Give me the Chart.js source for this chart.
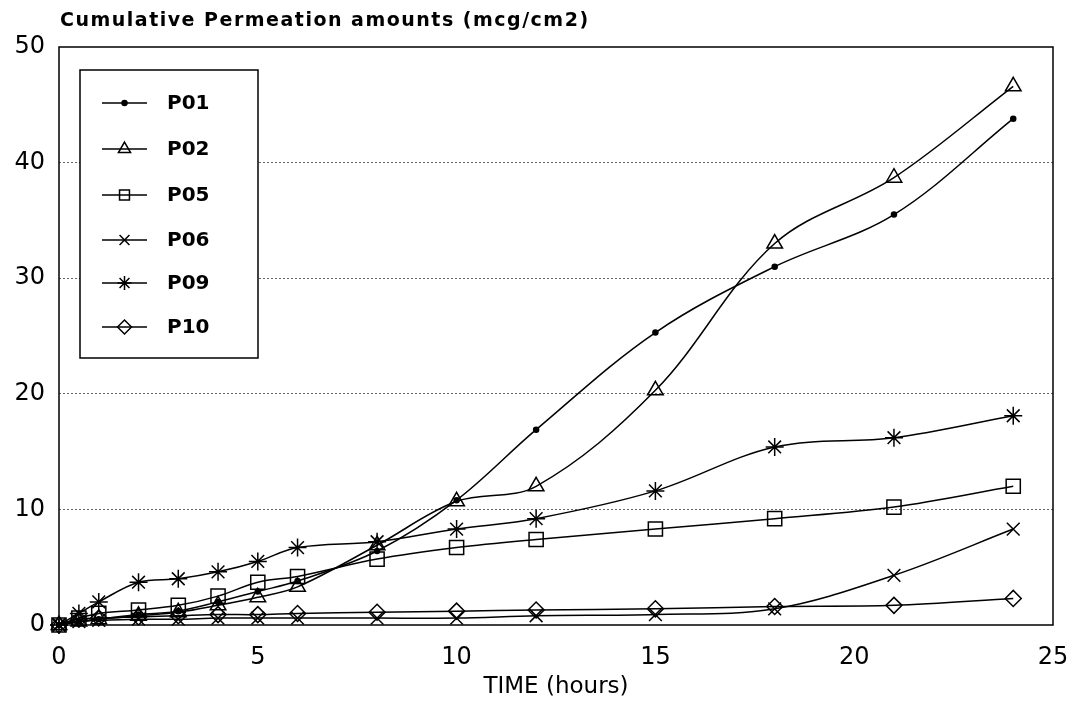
<!DOCTYPE html>
<html>
<head>
<meta charset="utf-8">
<title>Cumulative Permeation amounts</title>
<script src="https://cdn.jsdelivr.net/npm/chart.js@4/dist/chart.umd.min.js"></script>
<style>
    html, body { margin: 0; padding: 0; background: #fff; }
    #wrap { width: 1074px; height: 701px; position: relative; }
</style>
</head>
<body>
<div id="wrap"><canvas id="permChart"></canvas></div>
<script>
// Sampling times (hours)
const hours = [0, 0.5, 1, 2, 3, 4, 5, 6, 8, 10, 12, 15, 18, 21, 24];

// Cumulative permeation amounts (mcg/cm2)
const p01 = [0, 0.3, 0.5, 0.9, 1.2, 2.0, 2.9, 3.8, 6.4, 10.8, 16.9, 25.3, 31.0, 35.5, 43.8];
const p02 = [0, 0.3, 0.5, 0.8, 1.1, 1.7, 2.4, 3.3, 6.9, 10.7, 12.0, 20.3, 33.0, 38.7, 46.6];
const p05 = [0, 0.6, 1.0, 1.3, 1.7, 2.5, 3.7, 4.2, 5.7, 6.7, 7.4, 8.3, 9.2, 10.2, 12.0];
const p06 = [0, 0.3, 0.4, 0.5, 0.5, 0.6, 0.6, 0.6, 0.6, 0.6, 0.8, 0.9, 1.4, 4.3, 8.3];
const p09 = [0, 1.0, 2.0, 3.7, 4.0, 4.6, 5.5, 6.7, 7.2, 8.3, 9.2, 11.6, 15.4, 16.2, 18.1];
const p10 = [0, 0.5, 0.6, 0.7, 0.8, 0.9, 0.9, 1.0, 1.1, 1.2, 1.3, 1.4, 1.6, 1.7, 2.3];

const seriesNames = ['P01', 'P02', 'P05', 'P06', 'P09', 'P10'];
const seriesValues = [p01, p02, p05, p06, p09, p10];
const markerStyles = ['circle', 'triangle', 'rect', 'crossRot', 'star', 'rectRot'];
const markerSizes = [2.5, 9, 10, 9, 9, 8];

const yTicks = [0, 10, 20, 30, 40, 50];
const xTicks = [0, 5, 10, 15, 20, 25];

const chartTitle = 'Cumulative Permeation amounts (mcg/cm2)';
const xTitle = 'TIME (hours)';

document.addEventListener('DOMContentLoaded', function() {
    const canvas = document.getElementById('permChart');

    const datasets = seriesNames.map(function(name, i) {
        const filled = markerStyles[i] === 'circle';
        return {
            label: name,
            data: seriesValues[i].map((v, j) => ({ x: hours[j], y: v })),
            borderColor: '#000',
            borderWidth: 1.5,
            backgroundColor: filled ? '#000' : 'rgba(0,0,0,0)',
            pointStyle: markerStyles[i],
            pointRadius: markerSizes[i],
            pointBorderColor: '#000',
            pointBackgroundColor: filled ? '#000' : 'rgba(0,0,0,0)',
            pointBorderWidth: 1.5,
            tension: 0.35,
            clip: false
        };
    });

    // Frame, title over the y axis, and the boxed legend inside the plot
    const decorations = {
        id: 'decorations',
        afterDraw(chart) {
            const ctx = chart.ctx;
            const area = chart.chartArea;
            ctx.save();
            ctx.strokeStyle = '#000';
            ctx.lineWidth = 1.5;
            ctx.strokeRect(area.left, area.top, area.right - area.left, area.bottom - area.top);

            ctx.fillStyle = '#000';
            ctx.font = 'bold 19px "DejaVu Sans"';
            ctx.textAlign = 'left';
            ctx.textBaseline = 'middle';
            ctx.letterSpacing = '1.5px';
            ctx.fillText(chartTitle, 60, 21);
            ctx.letterSpacing = '0px';

            // legend box
            const box = { x: 80, y: 70, w: 178, h: 288 };
            ctx.fillStyle = '#fff';
            ctx.fillRect(box.x, box.y, box.w, box.h);
            ctx.strokeRect(box.x, box.y, box.w, box.h);

            const rows = [103, 149, 195, 240, 283, 327];
            chart.data.datasets.forEach(function(ds, i) {
                const y = rows[i];
                ctx.strokeStyle = '#000';
                ctx.lineWidth = 1.5;
                ctx.beginPath();
                ctx.moveTo(102, y);
                ctx.lineTo(147, y);
                ctx.stroke();
                ctx.fillStyle = ds.pointBackgroundColor;
                Chart.helpers.drawPoint(ctx, {
                    pointStyle: ds.pointStyle,
                    radius: ds.pointStyle === 'circle' ? 2.5 : 7,
                    rotation: 0,
                    borderWidth: 1.5
                }, 124.5, y);
                ctx.fillStyle = '#000';
                ctx.font = 'bold 20px "DejaVu Sans"';
                ctx.fillText(ds.label, 167, y + 1);
            });
            ctx.restore();
        }
    };

    new Chart(canvas, {
        type: 'line',
        data: { datasets: datasets },
        options: {
            responsive: true,
            maintainAspectRatio: false,
            animation: false,
            layout: { padding: { top: 47, right: 0, left: 0, bottom: 0 } },
            plugins: {
                legend: { display: false },
                tooltip: { enabled: false }
            },
            scales: {
                x: {
                    type: 'linear',
                    min: 0,
                    max: 25,
                    afterBuildTicks: function(scale) {
                        scale.ticks = xTicks.map(v => ({ value: v }));
                    },
                    afterFit: function(scale) {
                        scale.height = 76;
                        scale.paddingLeft = 0;
                        scale.paddingRight = 21;
                    },
                    grid: { display: false, drawTicks: false },
                    border: { display: false },
                    ticks: {
                        color: '#000',
                        padding: 18,
                        maxRotation: 0,
                        font: { family: 'DejaVu Sans', size: 24 }
                    },
                    title: {
                        display: true,
                        text: xTitle,
                        color: '#000',
                        padding: { top: 0, bottom: 0 },
                        font: { family: 'DejaVu Sans', size: 23 }
                    }
                },
                y: {
                    min: 0,
                    max: 50,
                    afterBuildTicks: function(scale) {
                        scale.ticks = yTicks.map(v => ({ value: v }));
                    },
                    afterFit: function(scale) { scale.width = 59; },
                    grid: {
                        drawTicks: false,
                        color: ctx => (ctx.tick.value === 0 || ctx.tick.value === 50) ? 'rgba(0,0,0,0)' : '#666',
                        lineWidth: 1
                    },
                    border: { display: false, dash: [2, 2] },
                    ticks: {
                        color: '#000',
                        padding: 14,
                        font: { family: 'DejaVu Sans', size: 24 }
                    }
                }
            }
        },
        plugins: [decorations]
    });
});
</script>
</body>
</html>
